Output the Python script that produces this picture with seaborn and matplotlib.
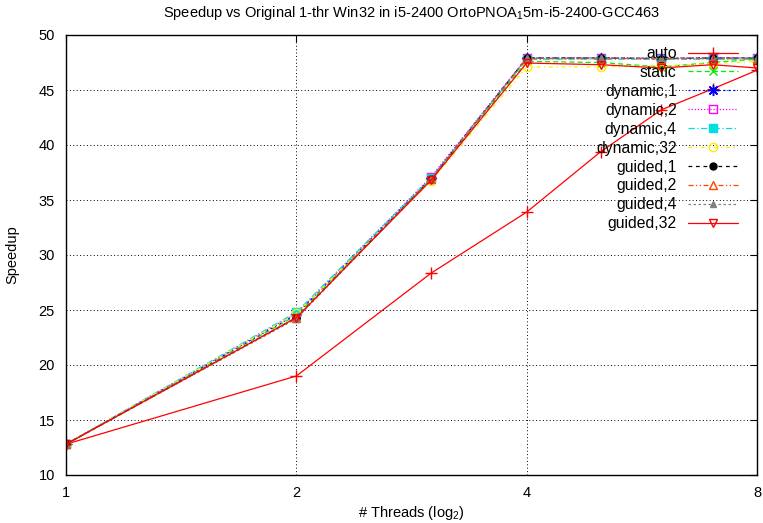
import matplotlib
matplotlib.use("Agg")
import matplotlib.pyplot as plt
import seaborn as sns
import pandas as pd

threads = [1, 2, 3, 4, 5, 6, 7, 8]
auto = [12.8, 19.0, 28.35, 33.9, 39.4, 43.2, 45.1, 46.8]
static = [12.8, 24.5, 36.9, 47.6, 47.5, 47.1, 47.5, 47.8]
dynamic_1 = [12.8, 24.6, 37.0, 47.9, 47.9, 47.85, 47.9, 47.9]
dynamic_2 = [12.8, 24.7, 37.1, 47.9, 47.95, 47.9, 47.95, 47.9]
dynamic_4 = [12.8, 24.8, 37.0, 47.8, 47.8, 47.8, 47.8, 47.8]
dynamic_32 = [12.8, 24.7, 36.7, 47.1, 47.1, 47.2, 47.4, 47.6]
guided_1 = [12.8, 24.3, 36.9, 47.9, 47.9, 47.85, 47.9, 47.9]
guided_2 = [12.8, 24.3, 36.9, 47.85, 47.85, 47.85, 47.85, 47.85]
guided_4 = [12.8, 24.2, 36.9, 47.9, 47.9, 47.9, 47.9, 47.9]
guided_32 = [12.8, 24.3, 36.8, 47.45, 47.3, 47.0, 47.3, 47.0]

series_names = ["auto", "static", "dynamic,1", "dynamic,2", "dynamic,4",
                "dynamic,32", "guided,1", "guided,2", "guided,4", "guided,32"]
series_values = [auto, static, dynamic_1, dynamic_2, dynamic_4,
                 dynamic_32, guided_1, guided_2, guided_4, guided_32]

x_ticks = [1, 2, 4, 8]
x_ticklabels = ["1", "2", "4", "8"]
y_ticks = [10, 15, 20, 25, 30, 35, 40, 45, 50]

styles = {
    "auto": dict(color="#ff0000", ls="-", marker="+", mfc="#ff0000", ms=8),
    "static": dict(color="#00ee00", ls=(0, (4, 2.5)), marker="x", mfc="#00ee00", ms=6),
    "dynamic,1": dict(color="#0000ff", ls=(0, (1.5, 2.5)), marker=(8, 2, 0), mfc="#0000ff", ms=8),
    "dynamic,2": dict(color="#ff00ff", ls=(0, (1, 1.5)), marker="s", mfc="none", ms=6),
    "dynamic,4": dict(color="#00e0e0", ls=(0, (5, 2, 1, 2)), marker="s", mfc="#00e0e0", ms=6),
    "dynamic,32": dict(color="#ffee00", ls=(0, (3, 3, 1, 3)), marker="o", mfc="none", ms=6),
    "guided,1": dict(color="#000000", ls=(0, (3, 3)), marker="o", mfc="#000000", ms=5),
    "guided,2": dict(color="#ff4500", ls=(0, (4, 2, 1, 2, 1, 2)), marker="^", mfc="none", ms=6),
    "guided,4": dict(color="#808080", ls=(0, (2, 2)), marker="^", mfc="#808080", ms=5),
    "guided,32": dict(color="#ff0000", ls="-", marker="v", mfc="none", ms=6),
}

sns.set_theme(style="white")
plt.rcParams["font.family"] = ["Liberation Sans", "DejaVu Sans"]
plt.rcParams["mathtext.fontset"] = "custom"
plt.rcParams["mathtext.rm"] = "Liberation Sans"
plt.rcParams["mathtext.it"] = "Liberation Sans"
plt.rcParams["mathtext.bf"] = "Liberation Sans"

fig = plt.figure(figsize=(7.63, 5.23), dpi=100)
ax = fig.add_axes([66 / 763, 1 - 475 / 523, (757 - 66) / 763, (475 - 35) / 523])

for name, vals in zip(series_names, series_values):
    df = pd.DataFrame({"threads": threads, "speedup": vals})
    st = styles[name]
    sns.lineplot(data=df, x="threads", y="speedup", ax=ax, label=name,
                 color=st["color"], linestyle=st["ls"], marker=st["marker"],
                 markerfacecolor=st["mfc"], markeredgecolor=st["color"],
                 markersize=st["ms"], markeredgewidth=1.0, linewidth=0.9)

ax.set_xscale("log", base=2)
ax.set_xlim(1, 8)
ax.set_ylim(10, 50)
ax.set_xticks(x_ticks)
ax.set_xticklabels(x_ticklabels)
ax.minorticks_off()
ax.set_yticks(y_ticks)
ax.tick_params(direction="in", top=True, right=True, length=5, width=0.8,
               labelsize=10.5, colors="black", pad=8)
ax.grid(True, color="black", linestyle=(0, (1, 2.5)), linewidth=0.7)
for sp in ax.spines.values():
    sp.set_color("black")
    sp.set_linewidth(1.0)

ax.set_xlabel("# Threads (log$_2$)", fontsize=10.5, color="black", labelpad=3)
ax.set_ylabel("Speedup", fontsize=10.5, color="black", labelpad=14)
ax.set_title("Speedup vs Original 1-thr Win32 in i5-2400 OrtoPNOA$_1$5m-i5-2400-GCC463",
             fontsize=10.5, color="black", pad=13)

leg = ax.legend(loc="upper right", bbox_to_anchor=(1 - 19 / 691, 1 - 11 / 440),
                frameon=False, markerfirst=False, fontsize=11.3,
                handlelength=3.2, handletextpad=0.7, labelspacing=0.25,
                borderpad=0, borderaxespad=0)
for t in leg.get_texts():
    t.set_color("black")

fig.savefig("out.png", dpi=100)
